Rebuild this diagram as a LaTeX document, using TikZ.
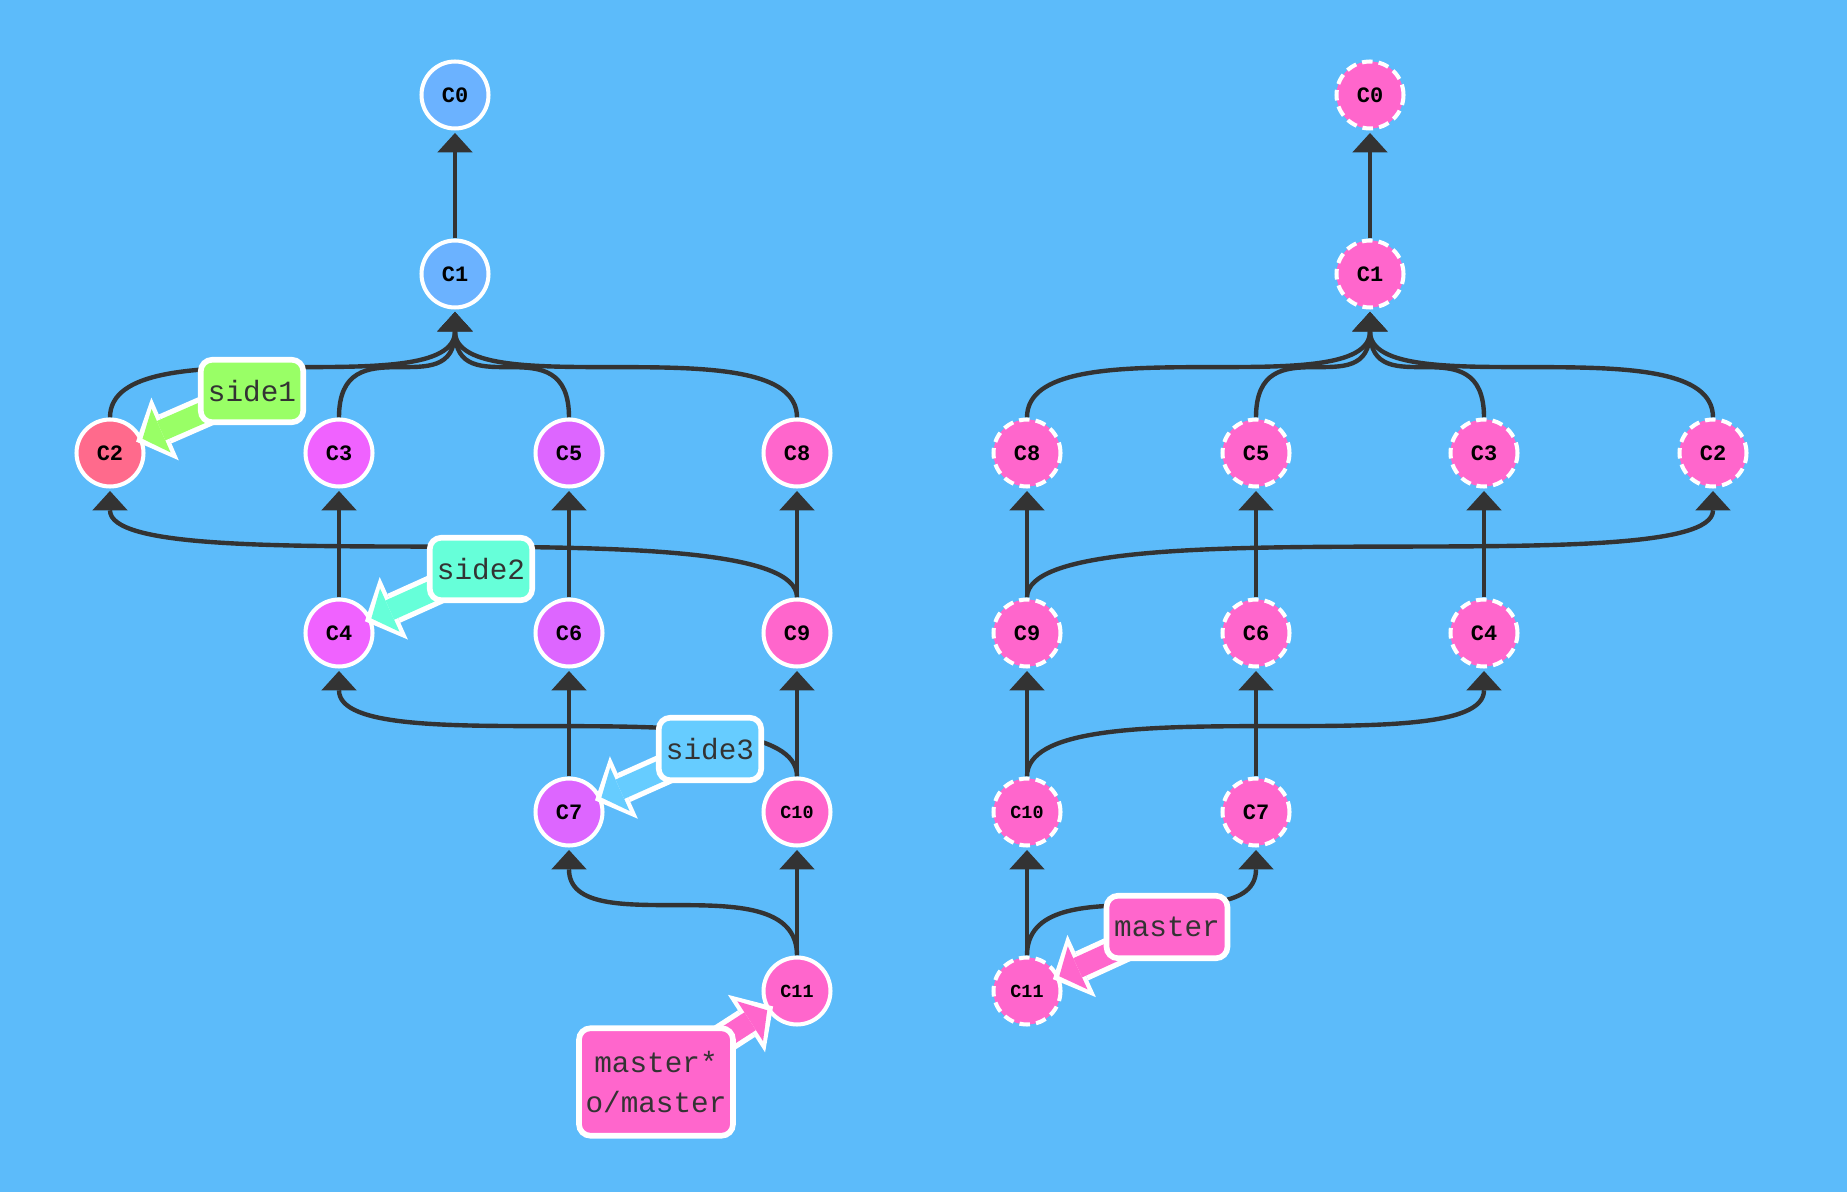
\documentclass[tikz,border=0pt]{standalone}
\usepackage{fontspec}
\setmonofont{Liberation Mono}
\usetikzlibrary{arrows.meta, positioning}

\definecolor{bgblue}{HTML}{5CBBFA}
\definecolor{edgegray}{HTML}{333333}
\definecolor{rootblue}{HTML}{6BB2FF}
\definecolor{redpink}{HTML}{FF6A8C}
\definecolor{magentc}{HTML}{F062FF}
\definecolor{purplec}{HTML}{DD66FF}
\definecolor{pinkc}{HTML}{FF66CC}
\definecolor{greenl}{HTML}{99FF66}
\definecolor{aqual}{HTML}{66FFD9}
\definecolor{skyl}{HTML}{66CCFF}

\pgfdeclarelayer{back}
\pgfdeclarelayer{front}
\pgfsetlayers{back,main,front}

\begin{document}
\begin{tikzpicture}[
        x=0.02cm, y=-0.02cm,
        commit/.style={circle, draw=white, line width=2.3pt, minimum size=1.34cm, inner sep=0pt,
            font=\ttfamily\bfseries\fontsize{12.5}{14}\selectfont},
        ghost/.style={commit, fill=pinkc, dash pattern=on 6pt off 3.5pt},
        twodigit/.style={font=\ttfamily\bfseries\fontsize{10.5}{12}\selectfont},
        parent/.style={draw=edgegray, line width=2.5pt, -{Triangle[width=20pt,length=11pt,line width=0pt]}},
        tag/.style={draw=white, line width=3.2pt, rounded corners=6.5pt, minimum width=2.05cm,
            minimum height=1.25cm, inner xsep=0.1cm, text=edgegray, align=center,
            font=\ttfamily\fontsize{16.7}{22.7}\selectfont},
        fatout/.style={white, line width=18pt, shorten >=-4pt, -{Triangle[width=39pt,length=18pt,line width=0pt]}},
        fatin/.style={#1, line width=12pt, -{Triangle[width=27pt,length=11.5pt,line width=0pt]}}
    ]
        % Cây bên trái
        \node[commit, fill=rootblue] (L0) at (455,95) {C0};
        \node[commit, fill=rootblue] (L1) at (455,274) {C1};
        \node[commit, fill=redpink] (L2) at (110,453) {C2};
        \node[commit, fill=magentc] (L3) at (339,453) {C3};
        \node[commit, fill=purplec] (L5) at (569,453) {C5};
        \node[commit, fill=pinkc] (L8) at (797,453) {C8};
        \node[commit, fill=magentc] (L4) at (339,633) {C4};
        \node[commit, fill=purplec] (L6) at (569,633) {C6};
        \node[commit, fill=pinkc] (L9) at (797,633) {C9};
        \node[commit, fill=purplec] (L7) at (569,812) {C7};
        \node[commit, twodigit, fill=pinkc] (L10) at (797,812) {C10};
        \node[commit, twodigit, fill=pinkc] (L11) at (797,991) {C11};

        % Cây bên phải
        \node[ghost] (R0) at (1370,95) {C0};
        \node[ghost] (R1) at (1370,274) {C1};
        \node[ghost] (R8) at (1027,453) {C8};
        \node[ghost] (R5) at (1256,453) {C5};
        \node[ghost] (R3) at (1484,453) {C3};
        \node[ghost] (R2) at (1713,453) {C2};
        \node[ghost] (R9) at (1027,633) {C9};
        \node[ghost] (R6) at (1256,633) {C6};
        \node[ghost] (R4) at (1484,633) {C4};
        \node[ghost, twodigit] (R10) at (1027,812) {C10};
        \node[ghost] (R7) at (1256,812) {C7};
        \node[ghost, twodigit] (R11) at (1027,991) {C11};

        % Nhãn nhánh
        \begin{pgfonlayer}{front}
        \node[tag, fill=greenl] (s1) at (252,391) {side1};
        \node[tag, fill=aqual] (s2) at (481,569) {side2};
        \node[tag, fill=skyl] (s3) at (710,749) {side3};
        \node[tag, fill=pinkc, minimum width=3.08cm, minimum height=2.15cm] (m1) at (656,1082) {master*\\o/master};
        \node[tag, fill=pinkc, minimum width=2.42cm] (m2) at (1167,927) {master};
        \end{pgfonlayer}

        % Mũi tên nhãn
        \draw[fatout] (s1.center) -- (L2);
        \draw[fatin=greenl] (s1.center) -- (L2);
        \draw[fatout] (s2.center) -- (L4);
        \draw[fatin=aqual] (s2.center) -- (L4);
        \draw[fatout] (s3.center) -- (L7);
        \draw[fatin=skyl] (s3.center) -- (L7);
        \draw[fatout] (m1.center) -- (L11);
        \draw[fatin=pinkc] (m1.center) -- (L11);
        \draw[fatout] (m2.center) -- (R11);
        \draw[fatin=pinkc] (m2.center) -- (R11);

        % Nền và các cạnh cha
        \begin{pgfonlayer}{back}
        \fill[bgblue] (0,0) rectangle (1847,1192);
        \draw[parent] (L1.north) .. controls +(0,-95) and +(0,95) .. ([yshift=-1.4pt]L0.south);
        \draw[parent] (L2.north) .. controls +(0,-95) and +(0,95) .. ([yshift=-1.4pt]L1.south);
        \draw[parent] (L3.north) .. controls +(0,-95) and +(0,95) .. ([yshift=-1.4pt]L1.south);
        \draw[parent] (L5.north) .. controls +(0,-95) and +(0,95) .. ([yshift=-1.4pt]L1.south);
        \draw[parent] (L8.north) .. controls +(0,-95) and +(0,95) .. ([yshift=-1.4pt]L1.south);
        \draw[parent] (L4.north) .. controls +(0,-95) and +(0,95) .. ([yshift=-1.4pt]L3.south);
        \draw[parent] (L6.north) .. controls +(0,-95) and +(0,95) .. ([yshift=-1.4pt]L5.south);
        \draw[parent] (L9.north) .. controls +(0,-95) and +(0,95) .. ([yshift=-1.4pt]L8.south);
        \draw[parent] (L9.north) .. controls +(0,-95) and +(0,95) .. ([yshift=-1.4pt]L2.south);
        \draw[parent] (L7.north) .. controls +(0,-95) and +(0,95) .. ([yshift=-1.4pt]L6.south);
        \draw[parent] (L10.north) .. controls +(0,-95) and +(0,95) .. ([yshift=-1.4pt]L9.south);
        \draw[parent] (L10.north) .. controls +(0,-95) and +(0,95) .. ([yshift=-1.4pt]L4.south);
        \draw[parent] (L11.north) .. controls +(0,-95) and +(0,95) .. ([yshift=-1.4pt]L10.south);
        \draw[parent] (L11.north) .. controls +(0,-95) and +(0,95) .. ([yshift=-1.4pt]L7.south);

        \draw[parent] (R1.north) .. controls +(0,-95) and +(0,95) .. ([yshift=-1.4pt]R0.south);
        \draw[parent] (R8.north) .. controls +(0,-95) and +(0,95) .. ([yshift=-1.4pt]R1.south);
        \draw[parent] (R5.north) .. controls +(0,-95) and +(0,95) .. ([yshift=-1.4pt]R1.south);
        \draw[parent] (R3.north) .. controls +(0,-95) and +(0,95) .. ([yshift=-1.4pt]R1.south);
        \draw[parent] (R2.north) .. controls +(0,-95) and +(0,95) .. ([yshift=-1.4pt]R1.south);
        \draw[parent] (R9.north) .. controls +(0,-95) and +(0,95) .. ([yshift=-1.4pt]R8.south);
        \draw[parent] (R9.north) .. controls +(0,-95) and +(0,95) .. ([yshift=-1.4pt]R2.south);
        \draw[parent] (R6.north) .. controls +(0,-95) and +(0,95) .. ([yshift=-1.4pt]R5.south);
        \draw[parent] (R4.north) .. controls +(0,-95) and +(0,95) .. ([yshift=-1.4pt]R3.south);
        \draw[parent] (R10.north) .. controls +(0,-95) and +(0,95) .. ([yshift=-1.4pt]R9.south);
        \draw[parent] (R10.north) .. controls +(0,-95) and +(0,95) .. ([yshift=-1.4pt]R4.south);
        \draw[parent] (R7.north) .. controls +(0,-95) and +(0,95) .. ([yshift=-1.4pt]R6.south);
        \draw[parent] (R11.north) .. controls +(0,-95) and +(0,95) .. ([yshift=-1.4pt]R10.south);
        \draw[parent] (R11.north) .. controls +(0,-95) and +(0,95) .. ([yshift=-1.4pt]R7.south);
        \end{pgfonlayer}
    \end{tikzpicture}
\end{document}
